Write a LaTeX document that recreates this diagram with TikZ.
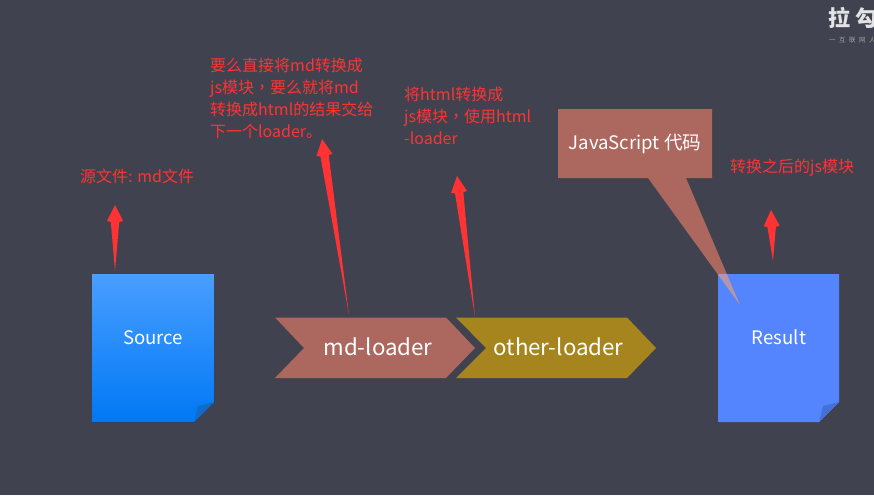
\documentclass[tikz,border=0pt]{standalone}
\usepackage{fontspec}
\setmainfont{Noto Sans CJK SC}
\newfontfamily\tcf{Noto Sans CJK TC}
\usetikzlibrary{calc}
\definecolor{bgc}{HTML}{41424F}
\definecolor{redc}{HTML}{FF3333}
\definecolor{mdc}{HTML}{AC675E}
\definecolor{otherc}{HTML}{A6851F}
\definecolor{resc}{HTML}{5485FF}
\definecolor{resfold}{HTML}{4570D5}
\definecolor{srctop}{HTML}{4A9EFF}
\definecolor{srcbot}{HTML}{0078F5}
\definecolor{srcfold}{HTML}{0F6CC8}
\tikzset{
  redlabel/.style={text=redc,font=\fontsize{16}{21.8}\selectfont,anchor=north west,align=left,inner sep=0pt},
  doclabel/.style={text=white,font=\fontsize{18.6}{22}\selectfont,inner sep=0pt},
  chevlabel/.style={text=white,font=\fontsize{22.3}{26}\selectfont,inner sep=0pt},
  calllabel/.style={text=white,font=\fontsize{18.6}{22}\selectfont,inner sep=0pt}
}
\newcommand{\cmm}{{\tcf ，}}
% tapered arrow: #1 tail, #2 tip
\newcommand{\taperarrow}[2]{%
  \fill[redc] (#1)
   -- ($(#2)!17pt!(#1)!4.2pt!90:(#1)$)
   -- ($(#2)!16pt!(#1)!8pt!90:(#1)$)
   -- (#2)
   -- ($(#2)!16pt!(#1)!8pt!-90:(#1)$)
   -- ($(#2)!17pt!(#1)!4.2pt!-90:(#1)$)
   -- cycle;}
\begin{document}
\begin{tikzpicture}[x=1pt,y=-1pt]
\useasboundingbox (0,0) rectangle (874,495);
\clip (0,0) rectangle (874,495);
\fill[bgc] (0,0) rectangle (874,495);
% logo
\node[text=white!85!bgc,font=\fontsize{22}{22}\selectfont\bfseries,anchor=west,inner sep=0pt] (logo) at (828.5,18) {拉\hspace{4.5pt}勾};
\node[text=white!50!bgc,font=\fontsize{6.5}{7}\selectfont,anchor=west,inner sep=0pt] (logosub) at (829,40) {一\hspace{3.5pt}互\hspace{3.5pt}联\hspace{3.5pt}网\hspace{3.5pt}人};
% source doc
\fill[top color=srctop,bottom color=srcbot,middle color=srctop!50!srcbot] (92,274) -- (214,274) -- (214,402) -- (194,422) -- (92,422) -- cycle;
\fill[srcfold] (194,422) -- (198,406) -- (214,402) -- cycle;
\node[doclabel] (source) at (153,337.5) {Source};
% result doc
\fill[resc] (718,274) -- (839,274) -- (839,402) -- (819,422) -- (718,422) -- cycle;
\fill[resfold] (819,422) -- (823,406) -- (839,402) -- cycle;
\node[doclabel] (result) at (779,337.5) {Result};
% chevrons
\fill[mdc] (275,317.5) -- (446,317.5) -- (475,348) -- (446,378) -- (275,378) -- (304,348) -- cycle;
\node[chevlabel] (md) at (378,347) {md-loader};
\fill[otherc] (456,317.5) -- (627,317.5) -- (656,348) -- (627,378) -- (456,378) -- (486,348) -- cycle;
\node[chevlabel] (other) at (558.5,347) {other-loader};
% callout
\fill[mdc] (558,109) -- (712,109) -- (712,178) -- (686,178) -- (740,305) -- (648,178) -- (558,178) -- cycle;
\begin{scope}
\clip (718,274) rectangle (839,422);
\fill[resc] (686,178) -- (740,305) -- (648,178) -- cycle;
\fill[mdc!65!white,fill opacity=.8] (686,178) -- (740,305) -- (648,178) -- cycle;
\end{scope}
\node[calllabel] (js) at (635,143.5) {JavaScript 代码};
% red labels
\node[redlabel] (l1) at (80,169) {源文件: md文件};
\node[redlabel] (l2) at (210,58) {要么直接将md转换成\\js模块\cmm 要么就将md\\转换成html的结果交给\\下一个loader。};
\node[redlabel] (l3) at (404,87) {将html转换成\\js模块\cmm 使用html\\-loader};
\node[redlabel] (l4) at (730,159) {转换之后的js模块};
% arrows
\coordinate (a1s) at (115,271); \coordinate (a1t) at (115,205);
\coordinate (a2s) at (349,315); \coordinate (a2t) at (322,139);
\coordinate (a3s) at (475,317); \coordinate (a3t) at (457,176);
\coordinate (a4s) at (773,261); \coordinate (a4t) at (771,210);
\taperarrow{a1s}{a1t}
\taperarrow{a2s}{a2t}
\taperarrow{a3s}{a3t}
\taperarrow{a4s}{a4t}
\end{tikzpicture}
\end{document}
